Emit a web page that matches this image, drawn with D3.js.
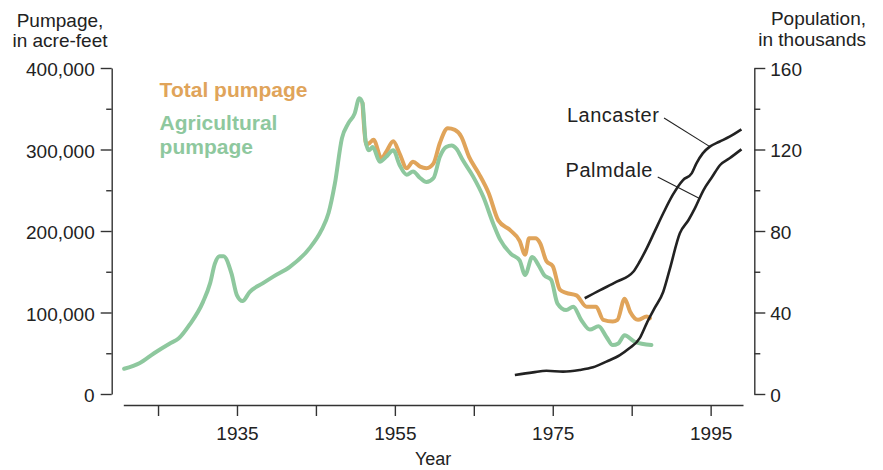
<!DOCTYPE html>
<html><head><meta charset="utf-8">
<script src="https://cdn.jsdelivr.net/npm/d3@7"></script>
<style>
html,body{margin:0;padding:0;background:#fff;}
svg{display:block;font-family:"Liberation Sans",Arial,sans-serif;}
</style></head><body>
<svg id="chart" width="883" height="470"></svg>
<script>
// Agricultural pumpage, acre-feet per year
const agYears = [1920.7,1922.7,1924.5,1926.5,1927.6,1929.0,1930.7,1931.6,1932.2,1932.8,1933.3,1934.3,1935.0,1935.7,1936.6,1938.3,1939.6,1941.7,1944.2,1945.7,1946.6,1947.4,1948.3,1949.1,1949.9,1950.5,1950.9,1951.3,1951.7,1952.2,1953.1,1953.9,1954.8,1955.6,1956.5,1957.3,1958.2,1959.0,1959.9,1960.7,1961.5,1962.2,1962.8,1963.6,1964.9,1966.2,1967.5,1968.3,1969.7,1970.8,1971.5,1972.4,1973.2,1973.9,1974.8,1975.6,1976.7,1977.6,1978.6,1979.7,1980.8,1981.8,1982.6,1983.3,1984.1,1985.4,1987.5];
const agPumpage = [31000,38000,50000,62000,68000,85000,113000,136000,160000,169000,169000,148000,121000,114000,125000,136000,144000,156000,179000,201000,222000,258000,314000,332000,344000,363000,357000,310000,299000,303000,285000,291000,299000,281000,269000,273000,265000,260000,265000,291000,303000,305000,301000,287000,267000,242000,208000,190000,172000,164000,146000,168000,158000,146000,140000,111000,103000,107000,91000,79000,83000,70000,60000,62000,72000,64000,60000];

// Total pumpage, acre-feet per year
const totalYears = [1950.9,1951.4,1951.8,1952.3,1953.3,1953.9,1954.8,1955.6,1956.5,1957.3,1958.2,1959.0,1959.9,1960.7,1961.7,1962.6,1963.4,1964.4,1965.6,1966.9,1968.1,1969.6,1970.8,1971.5,1972.0,1972.8,1973.4,1974.2,1975.0,1975.9,1976.7,1978.0,1979.3,1980.5,1981.4,1982.6,1983.2,1984.1,1984.8,1985.8,1986.9,1987.3];
const totalPumpage = [357000,306000,308000,312000,289000,297000,310000,295000,277000,285000,279000,277000,283000,308000,326000,324000,316000,291000,271000,246000,213000,201000,188000,171000,191000,191000,185000,163000,157000,128000,124000,121000,107000,107000,91000,89000,91000,117000,101000,91000,95000,93000];

// Population, thousands
const lancasterYears = [1979.05,1981.0,1983.1,1985.2,1986.0,1986.9,1987.9,1989.0,1990.2,1991.5,1992.6,1993.2,1994.0,1994.9,1996.1,1997.4,1998.9];
const lancasterPop = [47.0,51.0,55.1,60.0,64.9,71.5,79.7,88.7,97.7,105.0,108.3,113.2,118.1,121.4,123.8,126.3,129.9];
const palmdaleYears = [1970.2,1972.5,1974.2,1976.3,1978.4,1980.1,1981.8,1983.5,1984.7,1986.0,1986.9,1987.9,1989.0,1989.8,1991.1,1992.2,1993.0,1994.1,1995.2,1996.2,1997.4,1998.9];
const palmdalePop = [9.3,10.6,11.4,11.0,11.8,13.1,15.9,19.1,22.4,27.3,34.7,42.1,50.2,60.9,78.9,85.4,91.1,100.1,106.6,112.4,115.7,120.1];

// Axis ticks
const pumpageTicks = [0,50000,100000,150000,200000,250000,300000,350000,400000];
const pumpageLabels = [0,100000,200000,300000,400000];
const popTicks = [0,20,40,60,80,100,120,140,160];
const popLabels = [0,40,80,120,160];
const yearTicks = [1925,1935,1945,1955,1965,1975,1985,1995];
const yearLabels = [1935,1955,1975,1995];

const ORANGE = "#e0a45a", GREEN = "#8ec89e", INK = "#222", AXIS = "#333";

const svg = d3.select("#chart");
const x = d3.scaleLinear().domain([1920.6, 1999.1]).range([123.3, 743]);
const yL = d3.scaleLinear().domain([0, 400000]).range([394, 68]);
const yR = d3.scaleLinear().domain([0, 160]).range([394, 68]);

const fmt = d3.format(",");

function styleAxis(g, fs) {
  g.selectAll("path.domain").attr("stroke", AXIS).attr("stroke-width", 1.4);
  g.selectAll(".tick line").attr("stroke", AXIS).attr("stroke-width", 1.4);
  g.selectAll(".tick text").attr("fill", INK).style("font-size", fs + "px");
}

// Left axis (pumpage)
const gL = svg.append("g").attr("transform", "translate(111.7,0)")
  .call(d3.axisLeft(yL).tickValues(pumpageTicks).tickSize(11).tickSizeOuter(0).tickPadding(6)
    .tickFormat(d => pumpageLabels.includes(d) ? fmt(d) : ""));
styleAxis(gL, 19);
gL.selectAll(".tick").filter(d => !pumpageLabels.includes(d)).select("line").attr("x2", -5.5);
gL.selectAll(".tick text").attr("dy", "0.4em");

// Right axis (population)
const gR = svg.append("g").attr("transform", "translate(754.3,0)")
  .call(d3.axisRight(yR).tickValues(popTicks).tickSize(11).tickSizeOuter(0).tickPadding(5)
    .tickFormat(d => popLabels.includes(d) ? d : ""));
styleAxis(gR, 19);
gR.selectAll(".tick").filter(d => !popLabels.includes(d)).select("line").attr("x2", 6);
gR.selectAll(".tick text").attr("dy", "0.38em");

// Bottom axis (year)
const gX = svg.append("g").attr("transform", "translate(0,405)")
  .call(d3.axisBottom(x).tickValues(yearTicks).tickSize(11).tickSizeOuter(0).tickPadding(11)
    .tickFormat(d => yearLabels.includes(d) ? d : ""));
styleAxis(gX, 19);

// Axis titles
const titles = svg.append("g").attr("fill", INK).style("font-size", "19px");
titles.append("text").attr("x", 60).attr("y", 26.5).attr("text-anchor", "middle").text("Pumpage,");
titles.append("text").attr("x", 60).attr("y", 46.5).attr("text-anchor", "middle").text("in acre-feet");
titles.append("text").attr("x", 866).attr("y", 25).attr("text-anchor", "end").text("Population,");
titles.append("text").attr("x", 866).attr("y", 45.5).attr("text-anchor", "end").text("in thousands");
titles.append("text").attr("x", (x.range()[0] + x.range()[1]) / 2).attr("y", 465)
  .attr("text-anchor", "middle").style("font-size", "18px").text("Year");

// Pumpage lines
const pumpLine = d3.line().x(d => x(d[0])).y(d => yL(d[1])).curve(d3.curveMonotoneX);
const popLine = d3.line().x(d => x(d[0])).y(d => yR(d[1])).curve(d3.curveMonotoneX);

svg.append("path").datum(d3.zip(totalYears, totalPumpage))
  .attr("d", pumpLine).attr("fill", "none").attr("stroke", ORANGE)
  .attr("stroke-width", 4).attr("stroke-linejoin", "round").attr("stroke-linecap", "round");
svg.append("path").datum(d3.zip(agYears, agPumpage))
  .attr("d", pumpLine).attr("fill", "none").attr("stroke", GREEN)
  .attr("stroke-width", 4).attr("stroke-linejoin", "round").attr("stroke-linecap", "round");

// Population lines
svg.append("path").datum(d3.zip(lancasterYears, lancasterPop))
  .attr("d", popLine).attr("fill", "none").attr("stroke", INK).attr("stroke-width", 2.6);
svg.append("path").datum(d3.zip(palmdaleYears, palmdalePop))
  .attr("d", popLine).attr("fill", "none").attr("stroke", INK).attr("stroke-width", 2.6);

// Legend labels
const leg = svg.append("g").style("font-size", "21px").style("font-weight", "bold");
leg.append("text").attr("x", x(1925.2)).attr("y", yL(364000)).attr("fill", ORANGE).text("Total pumpage");
leg.append("text").attr("x", x(1925.2)).attr("y", yL(324000)).attr("fill", GREEN).text("Agricultural");
leg.append("text").attr("x", x(1925.2)).attr("y", yL(294500)).attr("fill", GREEN).text("pumpage");

// City labels with leader lines
const cities = svg.append("g").style("font-size", "20px").style("letter-spacing", "0.5px").attr("fill", INK);
cities.append("text").attr("x", x(1988.5)).attr("y", yR(133.5)).attr("text-anchor", "end").text("Lancaster");
cities.append("text").attr("x", x(1987.7)).attr("y", yR(106.6)).attr("text-anchor", "end").text("Palmdale");
svg.append("line").attr("x1", x(1989.1)).attr("y1", yR(135.5)).attr("x2", x(1994.9)).attr("y2", yR(121.4))
  .attr("stroke", INK).attr("stroke-width", 1.1);
svg.append("line").attr("x1", x(1988.3)).attr("y1", yR(106.5)).attr("x2", x(1993.6)).attr("y2", yR(96))
  .attr("stroke", INK).attr("stroke-width", 1.1);
</script>
</body></html>
